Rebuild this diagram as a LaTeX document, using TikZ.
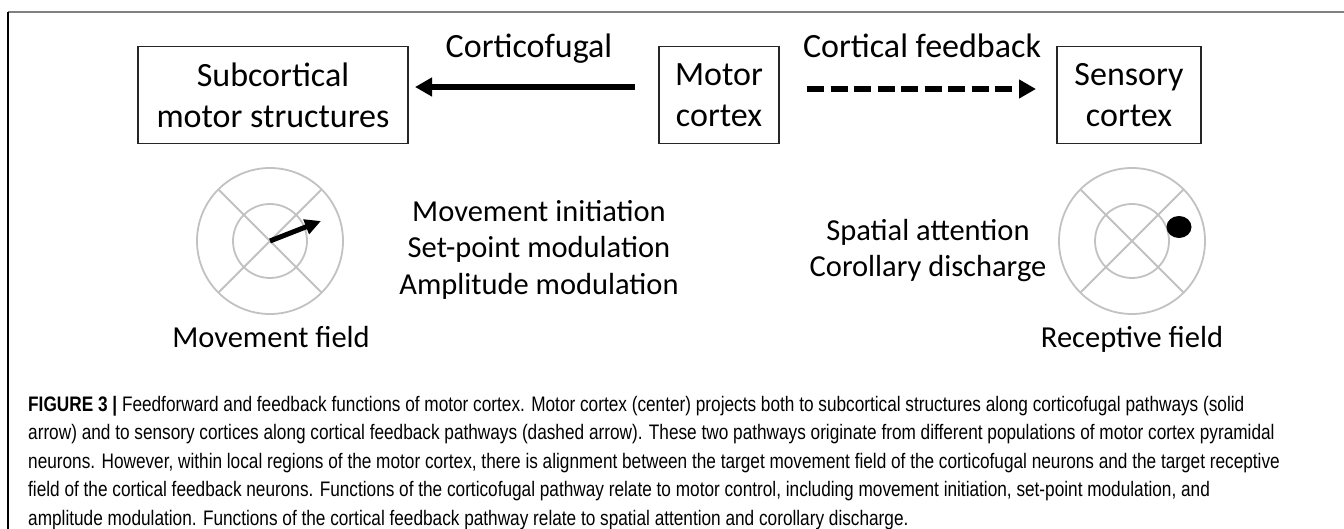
\documentclass[tikz,border=0pt]{standalone}
\usepackage{fontspec}
\setmainfont{Carlito}
\newfontfamily\capfont[FakeStretch=0.82]{Liberation Sans}
\usetikzlibrary{arrows.meta,calc}
\begin{document}
\begin{tikzpicture}[x=1pt,y=-1pt,
  box/.style={draw=black!85,line width=1.8pt,minimum height=97pt,align=center,inner sep=0pt,font=\fontsize{34}{41}\selectfont},
  lbl/.style={font=\fontsize{34}{41}\selectfont,inner sep=0pt,anchor=base},
  fn/.style={font=\fontsize{30.5}{37}\selectfont,inner sep=0pt,anchor=base},
  ring/.style={draw=black!24,line width=1.8pt},
  bigarrow/.style={line width=6pt,-{Triangle[length=17pt,width=18pt]}},
  caprow/.style={anchor=base west,inner sep=0pt,font=\capfont\fontsize{21}{28}\selectfont}
]
\useasboundingbox (0,0) rectangle (1344,529);
\fill[white] (0,0) rectangle (1344,529);
% frame
\draw[black!50,line width=1.5pt] (8,12) -- (1344,12);
\draw[black,line width=1.6pt] (8,12) -- (8,529);
% boxes
\node[box,minimum width=270pt] (sub) at (273,95) {Subcortical\\motor structures};
\node[box,minimum width=120pt] (mot) at (719,95) {Motor\\cortex};
\node[box,minimum width=144pt] (sen) at (1129,95) {Sensory\\cortex};
% labels
\node[lbl] (cf) at (529,58) {Corticofugal};
\node[lbl] (fb) at (922,58) {Cortical feedback};
% arrows
\coordinate (a1s) at (635,87);
\coordinate (a1e) at (415,87);
\draw[bigarrow] (a1s) -- (a1e);
\coordinate (a2s) at (807,89);
\coordinate (a2e) at (1036,89);
\draw[bigarrow,dash pattern=on 17pt off 6.5pt] (a2s) -- (a2e);
% left field
\coordinate (lc) at (270,241);
\draw[ring] (lc) circle (73);
\draw[ring] (lc) circle (37);
\draw[ring] ($(lc)+(-51.6,-51.6)$) -- ($(lc)+(51.6,51.6)$);
\draw[ring] ($(lc)+(-51.6,51.6)$) -- ($(lc)+(51.6,-51.6)$);
\coordinate (mv) at (321,221);
\draw[line width=5pt,-{Triangle[length=16pt,width=15pt]}] (lc) -- (mv);
% right field
\coordinate (rc) at (1132,241);
\draw[ring] (rc) circle (73);
\draw[ring] (rc) circle (37);
\draw[ring] ($(rc)+(-51.6,-51.6)$) -- ($(rc)+(51.6,51.6)$);
\draw[ring] ($(rc)+(-51.6,51.6)$) -- ($(rc)+(51.6,-51.6)$);
\fill[black] (1179,227) ellipse (12.5 and 11);
% middle texts
\node[fn] (fn1a) at (539,222) {Movement initiation};
\node[fn] (fn1b) at (539,258) {Set-point modulation};
\node[fn] (fn1c) at (539,295) {Amplitude modulation};
\node[fn] (fn2a) at (928,241) {Spatial attention};
\node[fn] (fn2b) at (928,277) {Corollary discharge};
\node[fn] (mf) at (271,347) {Movement field};
\node[fn] (rf) at (1132,347) {Receptive field};
% caption
\node[caprow] (c1) at (28,411) {\textbf{FIGURE 3} \textbf{|} Feedforward and feedback functions of motor cortex. Motor cortex (center) projects both to subcortical structures along corticofugal pathways (solid};
\node[caprow] (c2) at (28,439.5) {arrow) and to sensory cortices along cortical feedback pathways (dashed arrow). These two pathways originate from different populations of motor cortex pyramidal};
\node[caprow] (c3) at (28,468) {neurons. However, within local regions of the motor cortex, there is alignment between the target movement field of the corticofugal neurons and the target receptive};
\node[caprow] (c4) at (28,496.5) {field of the cortical feedback neurons. Functions of the corticofugal pathway relate to motor control, including movement initiation, set-point modulation, and};
\node[caprow] (c5) at (28,525) {amplitude modulation. Functions of the cortical feedback pathway relate to spatial attention and corollary discharge.};
\end{tikzpicture}
\end{document}
